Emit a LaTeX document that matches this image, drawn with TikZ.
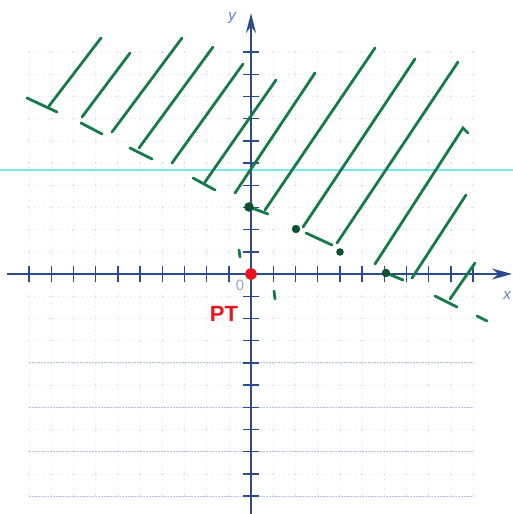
\documentclass[tikz,border=0pt]{standalone}
\usepackage{fontspec}
\setmainfont{Liberation Sans}
\usetikzlibrary{arrows.meta}
\definecolor{axisblue}{RGB}{44,74,140}
\definecolor{gridblue}{RGB}{205,216,240}
\definecolor{labblue}{RGB}{95,125,195}
\definecolor{hatch}{RGB}{22,122,74}
\definecolor{dotgreen}{RGB}{15,80,50}
\definecolor{scanline}{RGB}{120,232,240}
\definecolor{ptred}{RGB}{232,20,30}
\tikzset{
  hatchline/.style={hatch, line width=2.8pt, line cap=round},
  axisline/.style={axisblue, line width=2.4pt},
  tickmark/.style={axisblue, line width=1.4pt},
  griddot/.style={gridblue!70, line width=0.5pt, dash pattern=on 0.8pt off 4pt},
}
\begin{document}
\begin{tikzpicture}[x=1pt,y=-1pt]
\useasboundingbox (0,0) rectangle (513,514);
\fill[white] (0,0) rectangle (513,514);
% grid
\foreach \i in {-10,...,10}{
  \draw[griddot] ({251+22.2*\i},52) -- ({251+22.2*\i},497);
  \draw[griddot] (29,{274-22.2*\i}) -- (473,{274-22.2*\i});
  \foreach \j in {-10,...,10}{
    \fill[gridblue] ({251+22.2*\i},{274-22.2*\j}) circle (0.9);
  }
}
\foreach \j in {-4,-6,-8,-10}{
  \draw[gridblue!85!axisblue, line width=0.8pt, dash pattern=on 1.5pt off 1.5pt] (29,{274-22.2*\j}) -- (473,{274-22.2*\j});
}
% scan line
\draw[scanline, line width=1.3pt] (0,170) -- (513,170);
% ticks
\foreach \i in {-10,...,10}{
  \draw[tickmark] ({251+22.2*\i},266) -- ({251+22.2*\i},282);
  \draw[tickmark] (243,{274-22.2*\i}) -- (259,{274-22.2*\i});
}
% axes
\draw[axisline, -{Stealth[length=20pt,width=11pt]}] (7,274) -- (512,274);
\draw[axisline, -{Stealth[length=20pt,width=10pt]}] (251,514) -- (251,13);
\node[labblue, font=\itshape\fontsize{15}{15}\selectfont] (ylab) at (232,18) {y};
\node[labblue, font=\itshape\fontsize{15}{15}\selectfont] (xlab) at (507,296) {x};
\node[labblue!70, font=\fontsize{15}{15}\selectfont] (zero) at (240,285) {0};
% hatch lines
\draw[hatchline] (49,106) -- (101,38);
\draw[hatchline] (27,98) -- (57,112);
\draw[hatchline] (82,117) -- (130,53);
\draw[hatchline] (81,123) -- (102,134);
\draw[hatchline] (112,132) -- (182,38);
\draw[hatchline] (139,148) -- (213,47);
\draw[hatchline] (130,148) -- (152,159);
\draw[hatchline] (172,163) -- (243,64);
\draw[hatchline] (205,182) -- (276,80);
\draw[hatchline] (193,178) -- (215,190);
\draw[hatchline] (235,193) -- (315,73);
\draw[hatchline] (249,207) -- (268,214);
\draw[hatchline] (265,210) -- (375,48);
\draw[hatchline] (303,227) -- (415,59);
\draw[hatchline] (306,233) -- (332,245);
\draw[hatchline] (337,243) -- (458,62);
\draw[hatchline] (375,264) -- (463,128) -- (468,133);
\draw[hatchline] (386,273) -- (403,280);
\draw[hatchline] (412,278) -- (466,195);
\draw[hatchline] (450,299) -- (475,263);
\draw[hatchline] (435,296) -- (457,307);
\draw[hatchline] (477,316) -- (487,321);
\draw[hatchline] (239,250) -- (240,257);
\draw[hatchline] (274,291) -- (275,299);
% dots
\fill[dotgreen] (249,207) circle (4.8);
\fill[dotgreen] (296,229) circle (4.2);
\fill[dotgreen] (340,252) circle (3.8);
\fill[dotgreen] (386,273) circle (4.2);
\fill[ptred] (251,274) circle (5.8);
\node[ptred, font=\bfseries\fontsize{22}{22}\selectfont] (pt) at (224,314) {PT};
\end{tikzpicture}
\end{document}
